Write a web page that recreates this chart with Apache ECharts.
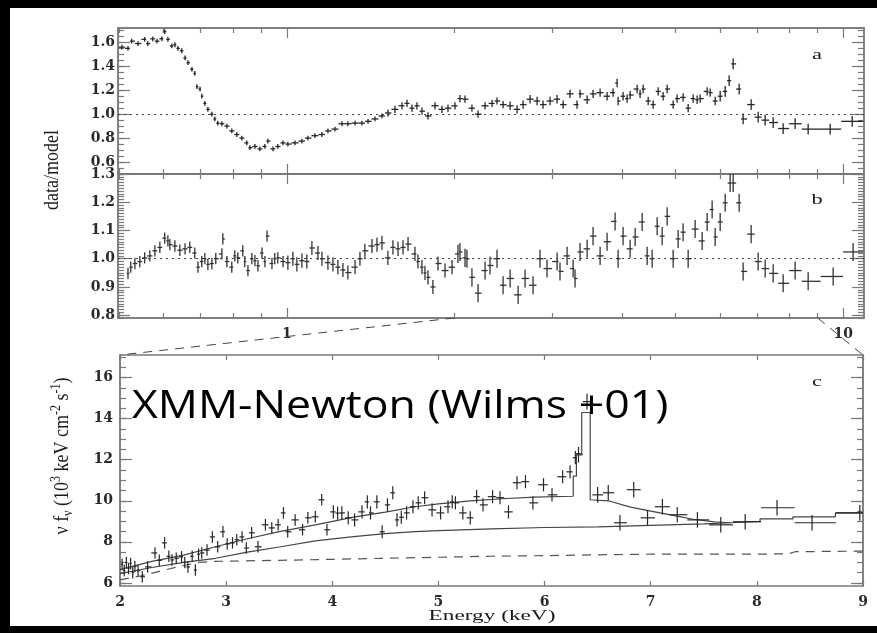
<!DOCTYPE html>
<html><head><meta charset="utf-8">
<script src="https://cdn.jsdelivr.net/npm/echarts@6/dist/echarts.min.js"></script>
<style>
html,body{margin:0;padding:0;background:#000;overflow:hidden;}
#paper{position:absolute;left:10px;top:8px;width:867px;height:618px;background:#fff;}
#c{position:absolute;left:0;top:0;width:877px;height:633px;}
</style>
</head><body><div id="paper"></div><div id="c"></div>
<script>
// ---------- Panel a : data/model ratio (log energy axis) ----------
const aEnergy = [0.505,0.518,0.526,0.540,0.555,0.562,0.574,0.584,0.596,0.603,
 0.611,0.621,0.629,0.637,0.647,0.656,0.664,0.675,0.683,0.689,
 0.698,0.703,0.712,0.721,0.733,0.742,0.751,0.764,0.780,0.796,
 0.813,0.830,0.847,0.858,0.876,0.894,0.913,0.924,0.944,0.963,
 0.984,1.004,1.034,1.064,1.091,1.123,1.156,1.185,1.220,1.256,
 1.287,1.326,1.364,1.399,1.440,1.482,1.519,1.564,1.610,1.644,
 1.678,1.713,1.749,1.793,1.846,1.900,1.948,2.005,2.047,2.090,
 2.151,2.206,2.271,2.338,2.386,2.447,2.519,2.593,2.658,2.736,
 2.817,2.887,2.972,3.060,3.137,3.228,3.323,3.365,3.465,3.551,
 3.656,3.763,3.858,3.923,3.939,4.021,4.089,4.140,4.262,4.314,
 4.369,4.461,4.554,4.649,4.746,4.826,4.947,5.028,5.155,5.264,
 5.374,5.464,5.532,5.695,5.766,5.887,6.010,6.136,6.237,6.342,
 6.501,6.609,6.832,7.033,7.240,7.484,7.800,8.197,8.650,9.476,
 10.38];
const aRatio = [1.56,1.55,1.61,1.59,1.625,1.59,1.63,1.61,1.63,1.69,
 1.625,1.57,1.58,1.55,1.53,1.47,1.43,1.375,1.34,1.23,
 1.21,1.15,1.09,1.04,1.0,0.96,0.925,0.92,0.9,0.86,
 0.83,0.80,0.76,0.72,0.73,0.71,0.73,0.775,0.71,0.73,
 0.76,0.75,0.76,0.775,0.80,0.82,0.83,0.86,0.875,0.92,
 0.92,0.925,0.925,0.94,0.96,0.985,1.01,1.04,1.07,1.09,
 1.05,1.07,1.025,0.985,1.07,1.04,1.05,1.07,1.13,1.125,
 1.05,1.0,1.07,1.09,1.11,1.08,1.07,1.04,1.08,1.125,
 1.11,1.08,1.11,1.125,1.08,1.17,1.08,1.17,1.12,1.17,
 1.18,1.15,1.18,1.26,1.11,1.15,1.13,1.16,1.21,1.17,
 1.21,1.11,1.08,1.19,1.15,1.21,1.08,1.13,1.14,1.05,
 1.13,1.12,1.13,1.19,1.18,1.11,1.15,1.19,1.28,1.42,
 1.21,0.96,1.08,0.975,0.95,0.93,0.88,0.92,0.875,0.875,
 0.94];
// estimated 1-sigma error by energy band: [upper energy keV, +/- error]
const aErrBands = [[1.5,0.02],[2.5,0.03],[6.0,0.035],[99,0.045]];

// ---------- Panel b : data/model ratio (log energy axis) ----------
const bEnergy = [0.518,0.524,0.533,0.544,0.555,0.567,0.579,0.591,0.603,0.611,
 0.616,0.629,0.642,0.656,0.669,0.683,0.692,0.703,0.712,0.721,
 0.733,0.745,0.764,0.767,0.780,0.796,0.806,0.816,0.833,0.840,
 0.851,0.865,0.876,0.887,0.902,0.913,0.921,0.940,0.951,0.963,
 0.984,1.004,1.025,1.042,1.064,1.086,1.109,1.137,1.156,1.185,
 1.210,1.235,1.261,1.287,1.326,1.353,1.381,1.422,1.452,1.482,
 1.519,1.551,1.584,1.617,1.651,1.699,1.720,1.749,1.771,1.793,
 1.830,1.869,1.924,1.981,2.030,2.047,2.090,2.107,2.151,2.206,
 2.271,2.318,2.386,2.447,2.519,2.604,2.680,2.770,2.851,2.935,
 3.060,3.097,3.189,3.270,3.296,3.365,3.465,3.551,3.656,3.763,
 3.890,3.939,4.021,4.140,4.227,4.351,4.442,4.535,4.630,4.727,
 4.826,4.947,5.050,5.155,5.264,5.418,5.578,5.695,5.813,5.887,
 6.010,6.136,6.263,6.342,6.501,6.609,6.832,7.033,7.240,7.484,
 7.800,8.197,8.650,9.594,10.42];
const bRatio = [0.948,0.97,0.983,0.99,1.003,1.01,1.028,1.04,1.073,1.063,
 1.05,1.045,1.03,1.035,1.04,1.02,0.97,0.99,1.0,0.98,
 0.983,1.0,1.017,1.07,0.99,0.97,1.01,1.003,1.028,0.99,
 0.958,1.0,0.993,0.975,1.02,0.99,1.08,0.983,1.0,1.003,
 0.99,0.986,1.0,0.98,0.993,0.99,1.038,1.02,1.0,0.986,
 0.98,0.97,0.96,0.951,0.97,1.0,1.028,1.045,1.05,1.056,
 1.003,1.04,1.035,1.04,1.052,1.017,0.99,0.97,0.95,0.934,
 0.9,0.983,0.958,0.97,1.017,1.024,1.003,1.0,0.934,0.878,
 0.958,0.976,1.0,0.906,0.93,0.872,0.93,0.906,1.0,0.965,
 0.99,0.955,1.01,0.965,0.93,1.024,1.035,1.08,1.01,1.06,
 1.132,1.0,1.08,1.035,1.077,1.13,1.01,1.0,1.115,1.08,
 1.15,1.0,1.07,1.094,1.0,1.105,1.063,1.13,1.174,1.077,
 1.13,1.198,1.268,1.268,1.198,0.955,1.087,0.99,0.965,0.948,
 0.913,0.958,0.92,0.937,1.024];
const bErrBands = [[1.0,0.02],[2.0,0.025],[99,0.032]];

// ---------- Panel c : nu F_nu spectrum, 2-9 keV ----------
const cEnergy = [2.02,2.04,2.06,2.08,2.10,2.12,2.14,2.17,2.21,2.26,
 2.33,2.37,2.42,2.46,2.49,2.53,2.58,2.61,2.64,2.68,
 2.71,2.74,2.77,2.82,2.87,2.92,2.97,3.01,3.06,3.10,
 3.15,3.19,3.24,3.30,3.37,3.43,3.49,3.54,3.58,3.65,
 3.72,3.77,3.84,3.90,3.95,4.01,4.05,4.09,4.15,4.21,
 4.28,4.33,4.36,4.42,4.47,4.52,4.57,4.61,4.65,4.70,
 4.76,4.81,4.87,4.94,5.02,5.09,5.13,5.16,5.23,5.30,
 5.36,5.42,5.51,5.58,5.66,5.74,5.82,5.89,5.99,6.07,
 6.17,6.24,6.29,6.32,6.40,6.50,6.60,6.71,6.84,6.97,
 7.11,7.25,7.44,7.66,7.89,8.19,8.52,8.97];
const cFlux = [6.9,6.6,7.0,6.7,6.95,6.5,6.8,6.6,6.3,6.78,
 7.46,7.1,7.95,7.3,7.12,7.2,7.27,7.0,6.78,7.3,
 6.63,7.4,7.46,7.6,8.24,7.76,8.49,7.9,7.95,8.1,
 8.24,7.7,8.44,7.76,8.83,8.68,8.83,9.41,8.49,9.07,
 8.59,9.17,9.22,10.05,8.59,9.46,9.4,9.41,9.17,9.07,
 9.46,9.95,9.41,9.95,8.49,9.8,10.39,9.07,9.2,9.41,
 9.71,9.9,10.15,9.56,9.41,9.71,9.95,9.9,9.41,9.17,
 10.2,9.8,10.2,10.15,9.46,10.88,10.93,9.9,10.78,10.29,
 11.17,11.41,12.1,12.24,14.83,10.29,10.39,8.93,10.54,9.17,
 9.71,9.32,9.07,8.83,8.98,9.66,8.93,9.41];
const cErrBands = [[4.0,0.28],[6.3,0.32],[99,0.38]];
// total model (with Fe line), continuum, dashed component
const cModelE = [2.0,2.3,2.6,2.9,3.2,3.5,3.84,4.2,4.5,4.78,5.0,5.3,5.6,5.9,6.27,6.27,6.3,6.3,6.35,6.35,6.43,6.43,6.6,6.8,7.0,7.2,7.4,7.6,7.75,8.03,8.03,8.34,8.34,8.74,8.74,9.0];
const cModelF = [6.65,7.05,7.35,7.76,8.15,8.5,8.83,9.2,9.45,9.71,9.85,10.0,10.1,10.18,10.22,11.2,11.2,12.3,12.3,14.3,14.3,10.05,10.0,9.7,9.5,9.3,9.1,8.97,8.93,9.0,9.12,9.12,9.22,9.22,9.41,9.41];
const cContE = [2.0,2.3,2.6,2.9,3.2,3.5,3.84,4.2,4.5,4.78,5.0,5.5,6.0,6.5,7.0,7.5,7.75];
const cContF = [6.45,6.75,7.0,7.2,7.5,7.75,8.05,8.25,8.4,8.5,8.55,8.63,8.7,8.73,8.8,8.88,8.93];
const cDashE = [2.0,2.2,2.4,2.6,2.75,2.9,3.5,4.0,4.5,5.0,5.5,6.0,6.5,7.0,7.5,8.0,8.3,8.36,9.0];
const cDashF = [6.15,6.35,6.6,6.85,7.0,7.05,7.1,7.15,7.2,7.25,7.3,7.33,7.37,7.4,7.4,7.4,7.42,7.52,7.55];

// ---------- axis ranges and ticks ----------
const abXRange = [0.497, 10.9];
const aYRange = [0.5, 1.72];
const bYRange = [0.79, 1.3];
const cXRange = [2, 9];
const cYRange = [5.85, 17.1];
const abMinorX = [0.5,0.6,0.7,0.8,0.9,2,3,4,5,6,7,8,9];
const abMajorX = [1,10];
const aMajorY = [0.6,0.8,1.0,1.2,1.4,1.6];
const bMajorY = [0.8,0.9,1.0,1.1,1.2,1.3];
const cMajorY = [6,8,10,12,14,16];
const cXTicks = [2,3,4,5,6,7,8,9];

function steps(a, b, s) { const out = []; for (let v = a; v <= b + 1e-9; v += s) out.push(Math.round(v * 1000) / 1000); return out; }
const aMinorY = steps(0.5, 1.7, 0.05);
const bMinorY = steps(0.79, 1.3, 0.01);
const cMinorY = steps(6, 17, 0.5);

function bandErr(bands, e) { for (const b of bands) if (e <= b[0]) return b[1]; return bands[bands.length - 1][1]; }
function rows(E, V, bands, geo) {
  const n = Math.min(E.length, V.length), out = [];
  for (let i = 0; i < n; i++) {
    const prev = i > 0 ? E[i - 1] : (geo ? E[i] * E[i] / E[i + 1] : 2 * E[i] - E[i + 1]);
    const next = i < n - 1 ? E[i + 1] : (geo ? E[i] * E[i] / E[i - 1] : 2 * E[i] - E[i - 1]);
    const lo = geo ? Math.sqrt(prev * E[i]) : (prev + E[i]) / 2;
    const hi = geo ? Math.sqrt(next * E[i]) : (next + E[i]) / 2;
    out.push([E[i], V[i], lo, hi, bandErr(bands, E[i])]);
  }
  return out;
}
function pairs(X, Y) { return X.map((x, i) => [x, Y[i]]); }

const AX = '#7a7a7a';
const SERIF = '"Liberation Serif","DejaVu Serif",serif';
const LBL = {fontFamily: '"DejaVu Serif",serif', fontSize: 14, fontWeight: 'bold', color: '#2a2a2a'};

function axis(o) {
  const a = {
    type: o.type || 'value', gridIndex: o.grid, position: o.pos, min: o.min, max: o.max,
    axisLine: {show: true, onZero: false, lineStyle: {color: AX, width: 1.5}},
    axisTick: {show: true, inside: true, length: o.len, customValues: o.ticks, lineStyle: {color: AX, width: 1.2}},
    axisLabel: {show: false},
    splitLine: {show: false}
  };
  if (o.labels) {
    a.axisLabel = Object.assign({show: true, customValues: o.labels, margin: o.margin || 8}, LBL);
    if (o.fmt) a.axisLabel.formatter = o.fmt;
  }
  if (a.type === 'log') a.logBase = 10;
  return a;
}

const xAxes = [];
const yAxes = [];
[0, 1].forEach(g => {
  xAxes.push(axis({type: 'log', grid: g, pos: 'bottom', min: abXRange[0], max: abXRange[1], ticks: abMinorX, len: 5}));
  xAxes.push(axis({type: 'log', grid: g, pos: 'bottom', min: abXRange[0], max: abXRange[1], ticks: abMajorX, len: 10,
    labels: g === 1 ? abMajorX : null, margin: 9, fmt: v => String(v)}));
  xAxes.push(axis({type: 'log', grid: g, pos: 'top', min: abXRange[0], max: abXRange[1], ticks: abMinorX, len: 5}));
  xAxes.push(axis({type: 'log', grid: g, pos: 'top', min: abXRange[0], max: abXRange[1], ticks: abMajorX, len: 10}));
});
xAxes.push(axis({grid: 2, pos: 'bottom', min: cXRange[0], max: cXRange[1], ticks: cXTicks, len: 5, labels: cXTicks, margin: 9}));
xAxes.push(axis({grid: 2, pos: 'top', min: cXRange[0], max: cXRange[1], ticks: cXTicks, len: 5}));

const yDefs = [
  {grid: 0, r: aYRange, minor: aMinorY, major: aMajorY, fmt: v => v.toFixed(1)},
  {grid: 1, r: bYRange, minor: bMinorY, major: bMajorY, fmt: v => v.toFixed(1)},
  {grid: 2, r: cYRange, minor: cMinorY, major: cMajorY, fmt: v => String(v)}
];
yDefs.forEach(d => {
  yAxes.push(axis({grid: d.grid, pos: 'left', min: d.r[0], max: d.r[1], ticks: d.minor, len: 6}));
  yAxes.push(axis({grid: d.grid, pos: 'left', min: d.r[0], max: d.r[1], ticks: d.major, len: 12, labels: d.major, fmt: d.fmt, margin: d.grid === 2 ? 7 : 3}));
  yAxes.push(axis({grid: d.grid, pos: 'right', min: d.r[0], max: d.r[1], ticks: d.minor, len: 6}));
  yAxes.push(axis({grid: d.grid, pos: 'right', min: d.r[0], max: d.r[1], ticks: d.major, len: 12}));
});

function errRender(color, lw) {
  return function (params, api) {
    const x = api.value(0), y = api.value(1), lo = api.value(2), hi = api.value(3), e = api.value(4);
    const a = api.coord([lo, y]), b = api.coord([hi, y]);
    const c = api.coord([x, y - e]), d = api.coord([x, y + e]);
    return {type: 'group', children: [
      {type: 'line', shape: {x1: a[0], y1: a[1], x2: b[0], y2: b[1]}, style: {stroke: color, lineWidth: lw}},
      {type: 'line', shape: {x1: c[0], y1: c[1], x2: d[0], y2: d[1]}, style: {stroke: color, lineWidth: lw}}
    ]};
  };
}
const unityLine = {symbol: 'none', silent: true, label: {show: false}, animation: false,
  lineStyle: {type: [2, 4], color: '#444', width: 1}, data: [{yAxis: 1}]};

const option = {
  backgroundColor: 'transparent',
  animation: false,
  grid: [
    {left: 118, top: 28, width: 746, height: 146},
    {left: 118, top: 174, width: 746, height: 144},
    {left: 120, top: 355, width: 743, height: 231}
  ],
  xAxis: xAxes,
  yAxis: yAxes,
  series: [
    {type: 'custom', name: 'a', xAxisIndex: 0, yAxisIndex: 0, clip: true, encode: {x: 0, y: 1},
     renderItem: errRender('#262626', 1.3), data: rows(aEnergy, aRatio, aErrBands, true), markLine: unityLine, z: 5},
    {type: 'custom', name: 'b', xAxisIndex: 4, yAxisIndex: 4, clip: true, encode: {x: 0, y: 1},
     renderItem: errRender('#333', 1.3), data: rows(bEnergy, bRatio, bErrBands, true), markLine: unityLine, z: 5},
    {type: 'custom', name: 'c', xAxisIndex: 8, yAxisIndex: 8, clip: true, encode: {x: 0, y: 1},
     renderItem: errRender('#262626', 1.2), data: rows(cEnergy, cFlux, cErrBands, false), z: 5},
    {type: 'line', xAxisIndex: 8, yAxisIndex: 8, data: pairs(cModelE, cModelF), showSymbol: false, symbol: 'none',
     lineStyle: {color: '#444', width: 1.2}, z: 4},
    {type: 'line', xAxisIndex: 8, yAxisIndex: 8, data: pairs(cContE, cContF), showSymbol: false, symbol: 'none',
     lineStyle: {color: '#444', width: 1.2}, z: 4},
    {type: 'line', xAxisIndex: 8, yAxisIndex: 8, data: pairs(cDashE, cDashF), showSymbol: false, symbol: 'none',
     lineStyle: {color: '#555', width: 1.2, type: [9, 7]}, z: 4}
  ]
};

const chart = echarts.init(document.getElementById('c'));
chart.setOption(option);

// connectors from panel b (2-9 keV range) to panel c, computed from the axes
const bx2 = chart.convertToPixel({xAxisIndex: 4}, cXRange[0]);
const bx9 = chart.convertToPixel({xAxisIndex: 4}, cXRange[1]);
const by = chart.convertToPixel({yAxisIndex: 4}, bYRange[0]);
const cxl = chart.convertToPixel({xAxisIndex: 8}, cXRange[0]);
const cxr = chart.convertToPixel({xAxisIndex: 8}, cXRange[1]);
const cyt = chart.convertToPixel({yAxisIndex: 8}, cYRange[1]);

const txt = (x, y, text, size, extra) => Object.assign({type: 'text', x: x, y: y, z: 50,
  style: {text: text, font: size + 'px ' + SERIF, fill: '#1a1a1a', align: 'center', verticalAlign: 'middle'}}, extra || {});

chart.setOption({
  graphic: [
    {type: 'line', z: 1, shape: {x1: bx2, y1: by, x2: cxl, y2: cyt}, style: {stroke: '#444', lineWidth: 1, lineDash: [9, 7]}},
    {type: 'line', z: 1, shape: {x1: bx9, y1: by, x2: cxr, y2: cyt}, style: {stroke: '#444', lineWidth: 1, lineDash: [9, 7]}},
    txt(52, 170, 'data/model', 18, {rotation: Math.PI / 2, scaleY: 1.2}),
    {type: 'text', x: 62, y: 456, rotation: Math.PI / 2, scaleY: 1.2, z: 50,
     style: {text: '{m|\u03bd f}{s|\u03bd}{m| (10}{p|3}{m| keV cm}{p|-2}{m| s}{p|-1}{m|)}', align: 'center', verticalAlign: 'middle',
       rich: {
         m: {fontFamily: SERIF, fontSize: 18, fill: '#1a1a1a', lineHeight: 22, verticalAlign: 'middle'},
         p: {fontFamily: SERIF, fontSize: 12, fill: '#1a1a1a', lineHeight: 22, verticalAlign: 'top'},
         s: {fontFamily: SERIF, fontSize: 12, fill: '#1a1a1a', lineHeight: 22, verticalAlign: 'bottom'}
       }}},
    txt(492, 616, 'Energy (keV)', 15, {scaleX: 1.55}),
    txt(817, 55, 'a', 15, {scaleX: 1.5}),
    txt(817, 200, 'b', 15, {scaleX: 1.5}),
    txt(817, 382, 'c', 15, {scaleX: 1.5}),
    {type: 'text', x: 132, y: 407, z: 60, scaleX: 1.145,
     style: {text: 'XMM-Newton (Wilms +01)', font: '39px "Open Sans"', fill: '#000', align: 'left', verticalAlign: 'middle'}}
  ]
});
</script>
</body></html>
